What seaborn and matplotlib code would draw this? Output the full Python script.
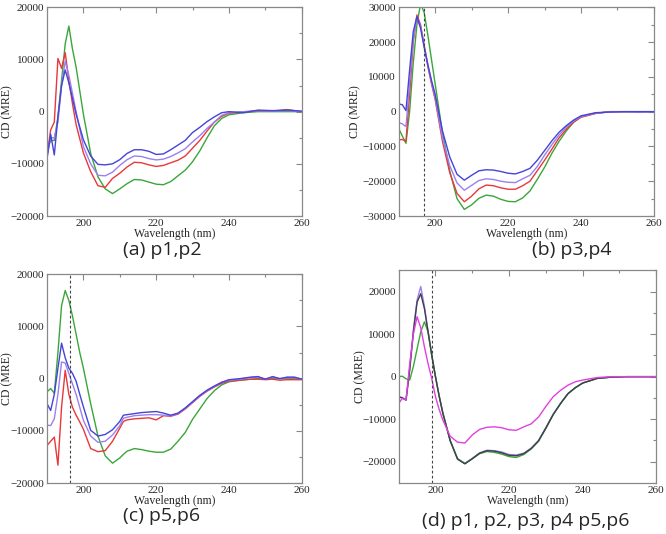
import numpy as np
import pandas as pd
import matplotlib
matplotlib.use("Agg")
import matplotlib.pyplot as plt
from matplotlib.ticker import MultipleLocator
import seaborn as sns

# ---- panel (a) p1,p2 ----
wl_a = [190, 191, 192, 193, 194, 195, 196, 197, 198, 200, 202, 204, 206, 208, 210, 212, 214, 216,
        218, 220, 222, 224, 226, 228, 230, 232, 234, 236, 238, 240, 244, 248, 252, 256, 260]
a_green = [-7000, -5600, -5500, -1000, 6000, 13000, 16400, 12000, 8500, -500, -8000, -12500, -14800,
           -15700, -14800, -13800, -13000, -13100, -13500, -13900, -14000, -13400, -12300, -11200,
           -9600, -7500, -5000, -2700, -1300, -600, -200, 0, 0, 0, 0]
a_red = [-8500, -3500, -2000, 10200, 8300, 11300, 6000, 1500, -2500, -7900, -11500, -14200, -14500,
         -12800, -11800, -10600, -9700, -9800, -10200, -10500, -10300, -9800, -9300, -8500, -7000,
         -5500, -3700, -2000, -900, -300, -100, 200, 100, 400, 0]
a_violet = [-8500, -5000, -5000, -2000, 5000, 9700, 7000, 3500, 0, -6700, -10000, -12200, -12300,
            -11600, -10300, -9200, -8500, -8600, -9000, -9250, -9100, -8600, -7900, -7100, -5800,
            -4600, -3200, -2000, -700, -200, 0, 200, 100, 200, 0]
a_blue = [-9000, -4300, -8300, -1000, 5000, 8000, 5500, 2500, -500, -5400, -8500, -10100, -10200,
          -10000, -9200, -8000, -7300, -7300, -7600, -8200, -8100, -7300, -6400, -5500, -4000,
          -3000, -1900, -1000, -200, 0, -200, 300, 200, 300, 100]

# ---- panel (b) p3,p4 ----
wl_b = [190, 191, 192, 193, 194, 195, 196, 197, 198, 199, 200, 202, 204, 206, 208, 210, 212, 214,
        216, 218, 220, 222, 224, 226, 228, 230, 232, 234, 236, 238, 240, 244, 248, 252, 256, 260]
b_green = [-4800, -7000, -9100, 0, 14000, 25000, 31000, 28500, 22000, 15000, 8000, -6000, -17000,
           -25000, -28100, -26800, -24900, -24000, -24300, -25200, -25800, -25900, -24800, -22800,
           -19500, -16000, -12000, -8500, -5500, -3000, -1500, -500, 0, 0, 0, 0]
b_red = [-8100, -8000, -8500, 5000, 20000, 27800, 25000, 19000, 13000, 8000, 3500, -8500, -17500,
         -23500, -25900, -24300, -22200, -21100, -21300, -21900, -22300, -22300, -21300, -20000,
         -17000, -14000, -10800, -7500, -5000, -3000, -1600, -500, 0, 0, 0, 0]
b_violet = [-3150, -3500, -4300, 8000, 21000, 26800, 24500, 19000, 13500, 8500, 4000, -7500, -15500,
            -20500, -22600, -21200, -19800, -19300, -19500, -20000, -20300, -20400, -19300, -18300,
            -15800, -12500, -9500, -6700, -4400, -2700, -1400, -400, -100, 0, -200, 0]
b_blue = [2200, 2000, 300, 12000, 23000, 27300, 24000, 18500, 13500, 9000, 5000, -5500, -13000,
          -18000, -19700, -18300, -17000, -16700, -16800, -17200, -17700, -17900, -17200, -16300,
          -14000, -11200, -8400, -5900, -4000, -2400, -1200, -300, -100, 0, 0, 0]

# ---- panel (c) p5,p6 ----
wl_c = [190, 191, 192, 193, 194, 195, 196, 197, 198, 199, 200, 202, 204, 206, 208, 210, 211, 212,
        214, 216, 218, 220, 222, 224, 226, 228, 230, 232, 234, 236, 238, 240, 243, 246, 248, 250,
        252, 254, 256, 258, 260]
c_green = [-2500, -1900, -2800, 5000, 14000, 16900, 15000, 12000, 8500, 5000, 2000, -4800, -11000,
           -14800, -16200, -15200, -14500, -13900, -13400, -13600, -13900, -14100, -14100, -13500,
           -12000, -10300, -7800, -5800, -3800, -2300, -1200, -600, -300, -100, 0, 0, 0, 0, 0, 0, 0]
c_red = [-12800, -12000, -11200, -16600, -5400, 1600, -3000, -5500, -7000, -8300, -9700, -13400,
         -14000, -13800, -12000, -9500, -8200, -7900, -7700, -7600, -7500, -7900, -7100, -7200,
         -6800, -5800, -4600, -3400, -2400, -1600, -900, -500, -300, -100, -100, -200, -100, -300,
         -200, -200, -200]
c_violet = [-8900, -9000, -7700, -3000, 3200, 3000, 1000, -1000, -3000, -5500, -8000, -11000,
            -12200, -12000, -10800, -9000, -7600, -7400, -7100, -7000, -6900, -6900, -7000, -7100,
            -6700, -5700, -4500, -3300, -2300, -1500, -700, -300, -100, 200, 300, -100, 300, 0,
            200, 200, -100]
c_blue = [-4800, -6100, -3000, 2000, 6800, 4000, 2000, 1000, -500, -3000, -5400, -9900, -11000,
          -10700, -9800, -8200, -7000, -6900, -6700, -6500, -6400, -6300, -6600, -7000, -6600,
          -5600, -4400, -3200, -2200, -1400, -700, -200, 0, 300, 400, -100, 400, 0, 300, 300, -100]

# ---- panel (d) p1..p6 ----
wl_d = [190, 191, 192, 193, 194, 195, 196, 197, 198, 199, 200, 201, 202, 204, 206, 208, 210, 212,
        214, 216, 218, 220, 222, 224, 226, 228, 230, 232, 234, 236, 238, 240, 244, 248, 252, 256, 260]
d_violet = [-4700, -4900, -5500, 2000, 11000, 18000, 21200, 16500, 10500, 5000, 0, -4500, -8500,
            -15000, -19300, -20400, -19200, -17900, -17300, -17400, -17700, -18300, -18400, -18000,
            -16800, -15000, -12000, -8800, -6300, -4000, -2600, -1500, -400, -100, 0, 0, 0]
d_black = [-4800, -5000, -5500, 1500, 10500, 17500, 19500, 16000, 10500, 5000, 0, -4600, -8600,
           -15100, -19400, -20500, -19300, -18000, -17400, -17500, -17900, -18500, -18600, -18100,
           -16900, -15100, -12100, -8900, -6300, -4000, -2600, -1500, -400, -100, 0, 0, 0]
d_green = [0, 100, -500, -800, 2400, 6500, 10500, 12900, 10500, 5000, 0, -4500, -8500, -15000,
           -19300, -20400, -19300, -18100, -17600, -17800, -18200, -18800, -19000, -18300, -17000,
           -15200, -12100, -8900, -6300, -4000, -2600, -1500, -400, -100, 0, 0, 0]
d_magenta = [-6300, -5100, -5500, 3000, 10000, 14100, 11500, 7000, 3000, -500, -4700, -7700, -10200,
             -14000, -15400, -15600, -13700, -12400, -11900, -11800, -12000, -12500, -12600, -11800,
             -11100, -9500, -7000, -4700, -3200, -2000, -1200, -800, -200, 0, 0, 0, 0]

captions = ["(a) p1,p2", "(b) p3,p4", "(c) p5,p6", "(d) p1, p2, p3, p4 p5,p6"]

RED = "#e8383a"
GREEN = "#3aa63a"
BLUE = "#4444d8"
VIOLET = "#9b80ee"
MAGENTA = "#e040e0"

sns.set_style("white")
plt.rcParams['font.family'] = ['Liberation Serif', 'DejaVu Serif']

fig = plt.figure(figsize=(6.66, 5.34), dpi=100)

# axes boxes in figure fractions [left, bottom, width, height]
boxes = [
    [0.0706, 0.5955, 0.3824, 0.3908],
    [0.5986, 0.5955, 0.3833, 0.3908],
    [0.0706, 0.0955, 0.3824, 0.3908],
    [0.5986, 0.0955, 0.3868, 0.3983],
]
ylabel_x = [-0.134, -0.148, -0.134, -0.127]

panels = [
    (wl_a, [(a_green, GREEN), (a_red, RED), (a_violet, VIOLET), (a_blue, BLUE)], (-20000, 20000), None),
    (wl_b, [(b_green, GREEN), (b_red, RED), (b_violet, VIOLET), (b_blue, BLUE)], (-30000, 30000), 197),
    (wl_c, [(c_green, GREEN), (c_red, RED), (c_violet, VIOLET), (c_blue, BLUE)], (-20000, 20000), 196.2),
    (wl_d, [(d_violet, VIOLET), (d_green, GREEN), (d_black, "#404048"), (d_magenta, MAGENTA)], (-25000, 25000), 199.1),
]

for box, lx, (wl, series, ylim, vline) in zip(boxes, ylabel_x, panels):
    ax = fig.add_axes(box)
    for vals, col in series:
        sns.lineplot(x=wl, y=vals, ax=ax, color=col, lw=1.0)
    if vline is not None:
        ax.axvline(vline, color="#444444", lw=0.8, ls=(0, (2.5, 2)))
    ax.set_xlim(190, 260)
    ax.set_ylim(*ylim)
    ax.xaxis.set_major_locator(MultipleLocator(20))
    ax.xaxis.set_minor_locator(MultipleLocator(10))
    ax.yaxis.set_major_locator(MultipleLocator(10000))
    ax.yaxis.set_minor_locator(MultipleLocator(5000))
    ax.tick_params(which="both", direction="in", top=True, right=True,
                   color="#888888", labelsize=8, pad=2)
    ax.tick_params(which="major", length=4, width=0.8)
    ax.tick_params(which="minor", length=2, width=0.8)
    for s in ax.spines.values():
        s.set_color("#888888")
        s.set_linewidth(0.9)
    ax.set_xlabel("Wavelength (nm)", fontsize=8.5, labelpad=0)
    ax.set_ylabel("CD (MRE)", fontsize=8.5)
    ax.yaxis.set_label_coords(lx, 0.5)

cap_pos = [(162, 250), (572, 250), (162, 516), (526, 521)]
for (px, py), txt in zip(cap_pos, captions):
    fig.text(px / 666, 1 - py / 534, txt, ha="center", va="center",
             fontsize=14, family=["Open Sans", "DejaVu Sans"])

fig.savefig("out.png", dpi=100)
plt.close(fig)
